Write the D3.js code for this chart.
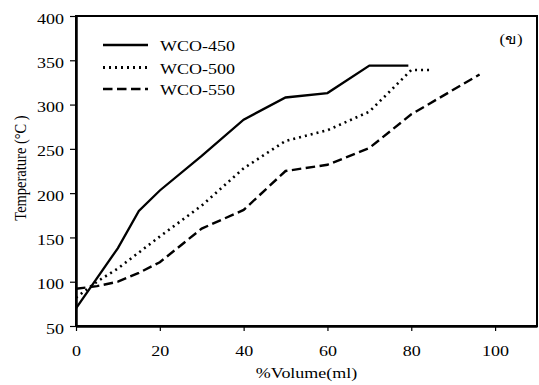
<!DOCTYPE html>
<html><head><meta charset="utf-8">
<script src="https://cdn.jsdelivr.net/npm/d3@7"></script>
<style>body{margin:0;background:#fff}svg{display:block}text{font-family:"Liberation Serif","Times New Roman",serif;fill:#000}</style>
</head><body><svg id="c" width="539" height="385"></svg>
<script>
const xTicks = [0,20,40,60,80,100];
const yTicks = [50,100,150,200,250,300,350,400];
const seriesNames = ["WCO-450","WCO-500","WCO-550"];
const wco450 = [[0,70],[10,138],[15,180],[20,203],[30,242],[40,283],[50,308],[60,313],[70,344],[79.3,344]];
const wco500 = [[0,82],[5,100],[10,115],[20,151],[30,186],[40,228],[50,259],[60,271],[70,292],[80,339],[85,339]];
const wco550 = [[0,92],[5,95],[10,100],[15,110],[20,122],[30,160],[40,181],[50,225],[60,232],[70,251],[80,289],[96.3,334]];
const panelLabel = "(ข)";
const xLabel = "%Volume(ml)";
const yLabel = "Temperature (°C )";

const SX = 1.2; // horizontal stretch of the text in the picture
const svg = d3.select("#c");
const L=76,R=537,T=16,B=326;
const x = d3.scaleLinear().domain([0,110]).range([L,R]);
const y = d3.scaleLinear().domain([50,400]).range([B,T]);

svg.append("rect").attr("x",L).attr("y",T).attr("width",R-L).attr("height",B-T)
  .attr("fill","none").attr("stroke","#000").attr("stroke-width",2);

const xa = svg.append("g").attr("transform",`translate(0,${B})`)
  .call(d3.axisBottom(x).tickValues(xTicks).tickSize(5).tickSizeOuter(0));
const ya = svg.append("g").attr("transform",`translate(${L},0)`)
  .call(d3.axisLeft(y).tickValues(yTicks).tickSize(6).tickSizeOuter(0));
[xa,ya].forEach(a=>{
  a.select(".domain").attr("stroke","#000").attr("stroke-width",2.5);
  a.selectAll(".tick line").attr("stroke","#000").attr("stroke-width",1.2);
  a.selectAll(".tick text").style("font-family","Liberation Serif").style("font-size","15px").attr("fill","#000");
});
xa.selectAll(".tick text").attr("x",0).attr("y",0).attr("dy",0)
  .attr("transform",`translate(0,30) scale(${SX},1)`);
ya.selectAll(".tick text").attr("x",0).attr("dy",0)
  .attr("transform",`translate(-12,7) scale(${SX},1)`);

const line = d3.line().x(d=>x(d[0])).y(d=>y(d[1]));
const styles = [
  {dash:null,w:2.3},
  {dash:"2,4",w:2.6},
  {dash:"9.5,4.5",w:2.4}
];
[wco450,wco500,wco550].forEach((s,i)=>{
  svg.append("path").datum(s).attr("d",line).attr("fill","none").attr("stroke","#000")
    .attr("stroke-width",styles[i].w).attr("stroke-dasharray",styles[i].dash);
});

function stext(px,py,str,size,anchor){
  return svg.append("text").attr("transform",`translate(${px},${py}) scale(${SX},1)`)
    .attr("text-anchor",anchor||"start").style("font-size",size+"px").text(str);
}
const ly=[45,67.5,89];
seriesNames.forEach((n,i)=>{
  svg.append("line").attr("x1",103).attr("x2",148).attr("y1",ly[i]).attr("y2",ly[i])
    .attr("stroke","#000").attr("stroke-width",styles[i].w+0.2).attr("stroke-dasharray",styles[i].dash);
  stext(160,ly[i]+6,n,15);
});

stext(511,44,panelLabel,14,"middle");
stext((L+R)/2,378,xLabel,15,"middle");
svg.append("text").attr("transform",`translate(25.5,168) scale(${SX},1) rotate(-90)`)
  .attr("text-anchor","middle").style("font-size","14.5px").text(yLabel);
</script></body></html>
